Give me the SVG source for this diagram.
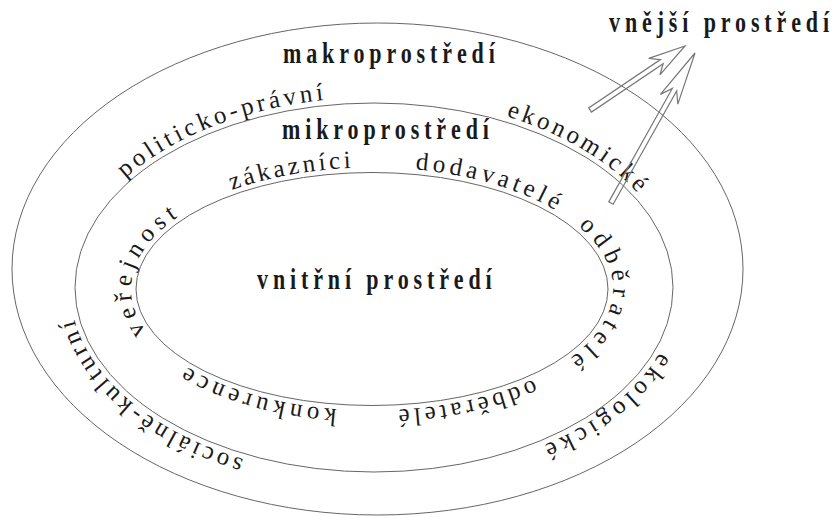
<svg xmlns="http://www.w3.org/2000/svg" xmlns:xlink="http://www.w3.org/1999/xlink" width="833" height="518" viewBox="0 0 833 518">
<style>
.ring{fill:none;stroke:#666;stroke-width:1}
.bold{font-family:"Liberation Serif","Times New Roman",serif;font-weight:bold;font-size:29px;letter-spacing:6.4px;fill:#1a1a1a}
.lbl{font-family:"Liberation Serif","Times New Roman",serif;font-size:25px;fill:#1a1a1a}
.arrow{fill:none;stroke:#777;stroke-width:1.2;stroke-linejoin:miter}
</style>
<defs>
<path id="bandOuter" d="M 374,477.5 A 304,190 0 1 1 374,97.5 A 304,190 0 1 1 374,477.5"/>
<path id="bandInner" d="M 372,410.5 A 241,121.5 0 1 1 372,167.5 A 241,121.5 0 1 1 372,410.5"/>
</defs>
<rect width="833" height="518" fill="#fff"/>

<g id="makroprostredi">
<ellipse class="ring" cx="377.5" cy="269" rx="365.5" ry="246"/>
<text class="bold" transform="translate(283,63) scale(0.76,1)">makroprostředí</text>
<text class="lbl" letter-spacing="3.7"><textPath href="#bandOuter" startOffset="132">sociálně-kulturní</textPath></text>
<text class="lbl" letter-spacing="3.7"><textPath href="#bandOuter" startOffset="519">politicko-právní</textPath></text>
<text class="lbl" letter-spacing="3.5"><textPath href="#bandOuter" startOffset="920">ekonomické</textPath></text>
<text class="lbl" letter-spacing="4.6"><textPath href="#bandOuter" startOffset="1247">ekologické</textPath></text>
</g>

<g id="mikroprostredi">
<ellipse class="ring" cx="374" cy="287.5" rx="299" ry="184.5"/>
<text class="bold" transform="translate(282,139) scale(0.76,1)">mikroprostředí</text>
<text class="lbl" letter-spacing="4.5"><textPath href="#bandInner" startOffset="35">konkurence</textPath></text>
<text class="lbl" letter-spacing="5.5"><textPath href="#bandInner" startOffset="246">veřejnost</textPath></text>
<text class="lbl" letter-spacing="3.4"><textPath href="#bandInner" startOffset="442">zákazníci</textPath></text>
<text class="lbl" letter-spacing="4.3"><textPath href="#bandInner" startOffset="628">dodavatelé</textPath></text>
<text class="lbl" letter-spacing="6.1"><textPath href="#bandInner" startOffset="803">odběratelé</textPath></text>
<text class="lbl" letter-spacing="3.9"><textPath href="#bandInner" startOffset="1004">odběratelé</textPath></text>
</g>

<g id="vnitrni-prostredi">
<ellipse class="ring" cx="372" cy="289" rx="236" ry="116.5"/>
<text class="bold" transform="translate(257,289) scale(0.76,1)">vnitřní prostředí</text>
</g>

<g id="vnejsi-prostredi">
<text class="bold" transform="translate(609,32) scale(0.76,1)" letter-spacing="6.1">vnější prostředí</text>
</g>

<g id="connectors">
<polygon class="arrow" transform="translate(685,46) rotate(-34)" points="0,0 -37,-10 -28,-2.5 -114.5,-2.5 -114.5,2.5 -28,2.5 -37,10"/>
<polygon class="arrow" transform="translate(695,53) rotate(-60.75)" points="0,0 -53,-10 -42,-2.5 -172,-2.5 -172,2.5 -42,2.5 -53,10"/>
</g>
</svg>
